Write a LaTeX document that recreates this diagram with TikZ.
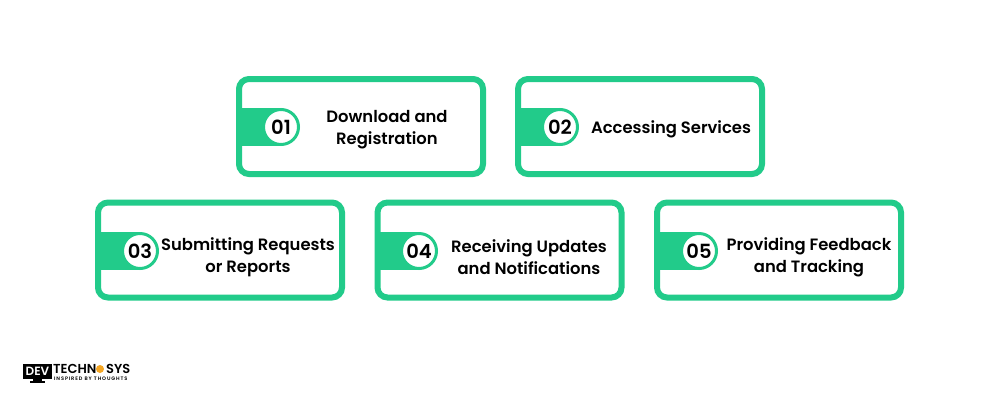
\documentclass[tikz,border=0pt]{standalone}
\usepackage{fontspec}
\setmainfont{Poppins}[BoldFont={* SemiBold}]
\definecolor{stepgreen}{HTML}{22CB8A}
\definecolor{logoorange}{HTML}{F5A623}
\tikzset{
  stepcard/.style={draw=stepgreen, line width=6pt, fill=white, rounded corners=10pt,
    minimum width=244pt, minimum height=95pt, inner sep=0pt},
  stepnum/.style={circle, draw=stepgreen, line width=3pt, fill=white, minimum size=35pt,
    inner sep=0pt, font=\fontsize{19.5}{22}\selectfont\bfseries, text=black},
  steptext/.style={align=center, font=\fontsize{16.4}{22}\selectfont\bfseries, text=black, inner sep=0pt},
  logotext/.style={anchor=west, inner sep=0pt, font=\fontsize{13}{12}\selectfont\bfseries, text=black}
}
\begin{document}
\begin{tikzpicture}[x=1pt,y=-1pt]
\useasboundingbox (0,0) rectangle (1000,400);
\fill[white] (0,0) rectangle (1000,400);

% Top row
\node[stepcard] (card1) at (361,126.5) {};
\node[stepcard] (card2) at (640,126.5) {};

% Bottom row
\node[stepcard] (card3) at (220,250) {};
\node[stepcard] (card4) at (499.5,250) {};
\node[stepcard] (card5) at (779,250) {};

% Tabs behind the numbers
\foreach \n/\x/\y in {1/239/127,2/518/127,3/98/251,4/378/251,5/657/251} {
  \fill[stepgreen] (\x,\y-19) rectangle (\x+42,\y+19);
}

% Numbers
\node[stepnum] (num1) at (281,127) {01};
\node[stepnum] (num2) at (560,127) {02};
\node[stepnum] (num3) at (140,251) {03};
\node[stepnum] (num4) at (419,251) {04};
\node[stepnum] (num5) at (699,251) {05};

% Labels
\node[steptext] (label1) at (387,129.5) {Download and\\Registration};
\node[steptext] (label2) at (671,129.5) {Accessing Services};
\node[steptext] (label3) at (248,257.5) {Submitting Requests\\or Reports};
\node[steptext] (label4) at (529,257.5) {Receiving Updates\\and Notifications};
\node[steptext] (label5) at (809,257.5) {Providing Feedback\\and Tracking};

% Logo
\fill[black] (23,364) rectangle (52,379);
\fill[black] (33,379) rectangle (42,381);
\fill[black] (30,381) rectangle (45,382.5);
\node[text=white, inner sep=0pt, font=\fontsize{12}{11}\selectfont\bfseries] (logodev) at (37.5,371.5) {DEV};
\node[logotext] (logotech) at (53,368.5) {TECHN};
\node[circle, fill=logoorange, minimum size=8pt, inner sep=0pt] (logodot) at (100,369) {};
\node[logotext] (logosys) at (106,368.5) {SYS};
\node[anchor=west, inner sep=0pt, font=\fontsize{5}{5}\selectfont\bfseries\addfontfeatures{LetterSpace=18}, text=black] (logotag) at (54,379) {INSPIRED BY THOUGHTS};
\end{tikzpicture}
\end{document}
